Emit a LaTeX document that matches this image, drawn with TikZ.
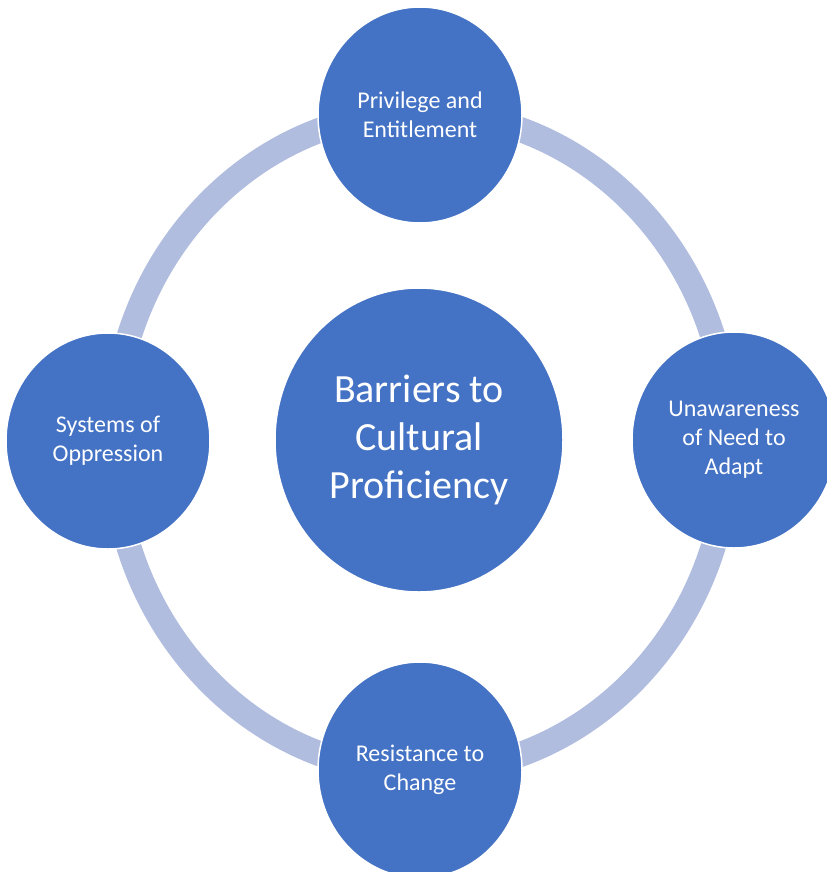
\documentclass[tikz,border=0pt]{standalone}
\usepackage{fontspec}
\setmainfont{Carlito}
\usepackage{tikz}
\usetikzlibrary{shapes.geometric}
\definecolor{barblue}{HTML}{4472C4}
\definecolor{ringblue}{HTML}{B0BDDF}
\tikzstyle{every node}=[font=\fontsize{24bp}{29bp}\selectfont, text=white, align=center]
\tikzstyle{barrier}=[ellipse, fill=barblue, draw=white, line width=1.5bp, inner sep=0pt,
    minimum width=204bp, minimum height=216bp]
\tikzstyle{hubnode}=[barrier, minimum width=288bp, minimum height=304bp,
    font=\fontsize{40bp}{48bp}\selectfont]

\begin{document}
\begin{tikzpicture}[x=1bp, y=-1bp]
            \useasboundingbox (0, 0) rectangle (827, 872);
            \clip (0, 0) rectangle (827, 872);

            % the ring behind the circles
            \coordinate (ring) at (421, 442);
            \draw [ringblue, line width=25bp] (ring) ellipse [x radius=308, y radius=330];

            \node [hubnode] (hub) at (419, 440) {Barriers to\\Cultural\\Proficiency};

            \node [barrier] (privilege) at (420, 115) {Privilege and\\Entitlement};
            \node [barrier] (unaware) at (734, 440) {Unawareness\\of Need to\\Adapt};
            \node [barrier] (resist) at (420, 770) {Resistance to\\Change};
            \node [barrier] (systems) at (108, 441) {Systems of\\Oppression};
        \end{tikzpicture}
\end{document}
